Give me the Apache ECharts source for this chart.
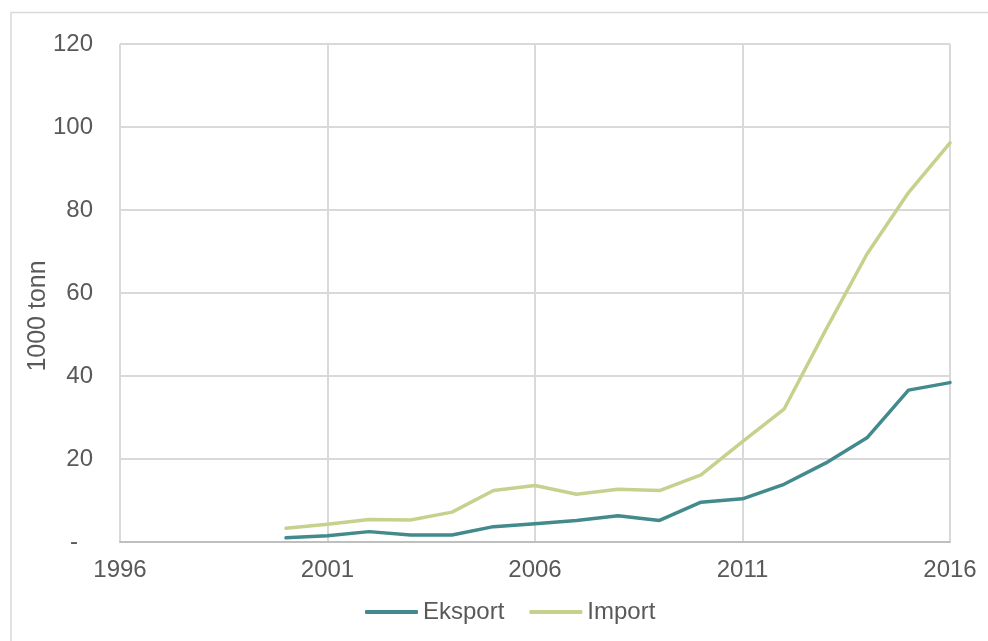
<!DOCTYPE html>
<html>
<head>
<meta charset="utf-8">
<script src="https://cdn.jsdelivr.net/npm/echarts@6/dist/echarts.min.js"></script>
<style>html,body{margin:0;padding:0;background:#fff;}#c{width:988px;height:641px;}</style>
</head>
<body>
<div id="c"></div>
<script>
var years = ['1996','1997','1998','1999','2000','2001','2002','2003','2004','2005','2006','2007','2008','2009','2010','2011','2012','2013','2014','2015','2016'];
var eksport = [null,null,null,null,1.0,1.5,2.5,1.7,1.7,3.7,4.4,5.2,6.3,5.2,9.6,10.4,13.9,19.0,25.1,36.6,38.4];
var importData = [null,null,null,null,3.3,4.3,5.4,5.3,7.2,12.4,13.6,11.5,12.7,12.4,16.2,24.2,32.0,51.0,69.4,84.2,96.2];
var yTicks = [0,20,40,60,80,100,120];
var yTitle = '1000 tonn';

var chart = echarts.init(document.getElementById('c'));
var font = 'Liberation Sans, Arial, sans-serif';
var fs = 24;
chart.setOption({
  animation: false,
  textStyle: {fontFamily: font},
  graphic: [
    {type:'rect', shape:{x:11, y:12.5, width:1000, height:700}, style:{fill:'none', stroke:'#d9d9d9', lineWidth:1.5}},
    {type:'text', x:38, y:316, rotation:Math.PI/2, style:{text:yTitle, fill:'#595959', font:'25px ' + font, textAlign:'center', textVerticalAlign:'middle'}}
  ],
  grid: {left:120, right:38, top:44, bottom:99},
  legend: {
    data:['Eksport','Import'], bottom:12, left:360, itemWidth:53, itemHeight:4, itemGap:25,
    icon:'roundRect',
    textStyle:{fontSize:fs, color:'#595959', fontFamily:font}
  },
  xAxis: {
    type:'category', data:years, boundaryGap:false,
    axisLine:{lineStyle:{color:'#bfbfbf', width:2}},
    axisTick:{show:false},
    axisLabel:{interval:4, fontSize:fs, color:'#595959', margin:16, fontFamily:font},
    splitLine:{show:true, interval:4, lineStyle:{color:'#d9d9d9', width:2}}
  },
  yAxis: {
    type:'value', min:yTicks[0], max:yTicks[yTicks.length-1], interval:20,
    axisLine:{show:false}, axisTick:{show:false},
    axisLabel:{fontSize:fs, color:'#595959', margin:27, fontFamily:font,
      formatter:function(v){ return v===0 ? '{d|-}' : String(v); },
      rich:{d:{fontSize:fs, color:'#595959', padding:[0,15,0,0], fontFamily:font}}},
    splitLine:{lineStyle:{color:'#d9d9d9', width:2}}
  },
  series: [
    {name:'Eksport', type:'line', data:eksport, symbol:'none', connectNulls:false,
     lineStyle:{color:'#428a8c', width:3.5, cap:'round', join:'round'}, itemStyle:{color:'#428a8c'}},
    {name:'Import', type:'line', data:importData, symbol:'none', connectNulls:false,
     lineStyle:{color:'#c8d08e', width:3.5, cap:'round', join:'round'}, itemStyle:{color:'#c8d08e'}}
  ]
});
</script>
</body>
</html>
